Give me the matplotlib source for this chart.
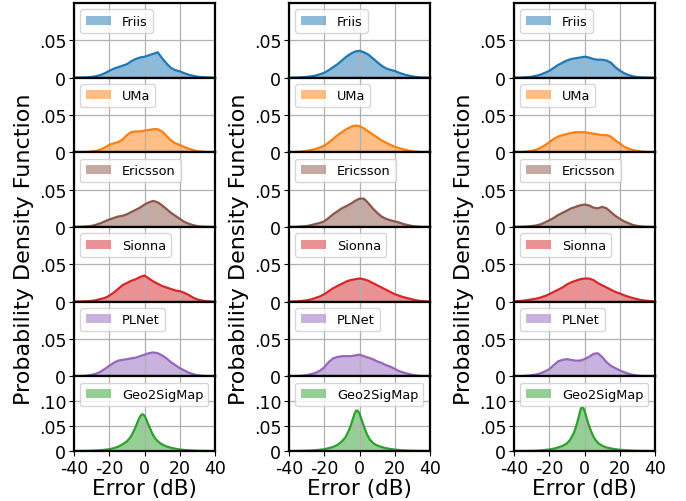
import matplotlib
matplotlib.use("Agg")
import matplotlib.pyplot as plt
from matplotlib.patches import Patch

plt.rcParams['axes.unicode_minus'] = False
plt.rcParams['font.family'] = ['DejaVu Sans']

# ---------------- data (density) ----------------
x_grid = [-40, -37.5, -35, -32.5, -30, -27.5, -25, -22.5, -20, -17.5, -15, -12.5,
          -10, -7.5, -5, -2.5, 0, 2.5, 5, 7.5, 10, 12.5, 15, 17.5, 20, 22.5,
          25, 27.5, 30, 32.5, 35, 37.5, 40]
geo_x = [-40, -35, -30, -25, -20, -17.5, -15, -12.5, -10, -8, -6, -5, -4, -3, -2, -1,
         0, 1, 2, 3, 4, 5, 6, 8, 10, 12.5, 15, 17.5, 20, 25, 30, 35, 40]

models = ["Friis", "UMa", "Ericsson", "Sionna", "PLNet", "Geo2SigMap"]
colors = ["tab:blue", "tab:orange", "tab:brown", "tab:red", "tab:purple", "tab:green"]

# column 1
c1_friis = [0, 0.0001, 0.0002, 0.0005, 0.001, 0.002, 0.0035, 0.006, 0.009,
            0.012, 0.014, 0.016, 0.018, 0.022, 0.025, 0.027, 0.028,
            0.030, 0.032, 0.034, 0.026, 0.019, 0.013, 0.010, 0.0085,
            0.006, 0.004, 0.0025, 0.0013, 0.0007, 0.0003, 0.0001, 0]
c1_uma = [0, 0.0001, 0.0003, 0.0007, 0.0012, 0.002, 0.0036, 0.0065, 0.010,
          0.012, 0.0135, 0.017, 0.023, 0.027, 0.028, 0.028, 0.029,
          0.030, 0.031, 0.031, 0.028, 0.022, 0.016, 0.012, 0.010,
          0.007, 0.005, 0.003, 0.0015, 0.0008, 0.0003, 0.0001, 0]
c1_ericsson = [0, 0.0001, 0.0003, 0.0008, 0.0015, 0.003, 0.005, 0.0075, 0.010,
               0.012, 0.014, 0.015, 0.017, 0.020, 0.023, 0.026, 0.030,
               0.033, 0.035, 0.033, 0.029, 0.024, 0.019, 0.015, 0.011,
               0.007, 0.0045, 0.0025, 0.0012, 0.0005, 0.0002, 0.0001, 0]
c1_sionna = [0, 0.0001, 0.0003, 0.0006, 0.001, 0.002, 0.0035, 0.005, 0.008,
             0.012, 0.017, 0.022, 0.025, 0.028, 0.030, 0.033, 0.035,
             0.031, 0.027, 0.024, 0.021, 0.019, 0.017, 0.015, 0.014,
             0.012, 0.009, 0.0055, 0.003, 0.0015, 0.0006, 0.0002, 0]
c1_plnet = [0, 0.0001, 0.0004, 0.001, 0.002, 0.0035, 0.006, 0.010, 0.014,
            0.018, 0.021, 0.022, 0.023, 0.024, 0.025, 0.027, 0.029,
            0.031, 0.032, 0.031, 0.028, 0.024, 0.019, 0.015, 0.011,
            0.008, 0.005, 0.003, 0.0015, 0.0007, 0.0003, 0.0001, 0]
c1_geo = [0, 0.0002, 0.0006, 0.0015, 0.0035, 0.0055, 0.0085, 0.013, 0.019,
          0.027, 0.040, 0.048, 0.057, 0.065, 0.071, 0.073, 0.070,
          0.063, 0.054, 0.046, 0.038, 0.031, 0.025, 0.018, 0.013,
          0.009, 0.0065, 0.0045, 0.003, 0.0013, 0.0005, 0.0002, 0]

# column 2
c2_friis = [0, 0.0001, 0.0002, 0.0005, 0.001, 0.0017, 0.0028, 0.0045, 0.0065,
            0.010, 0.014, 0.018, 0.023, 0.028, 0.032, 0.035, 0.036,
            0.034, 0.031, 0.026, 0.021, 0.016, 0.0125, 0.0105, 0.009,
            0.0065, 0.0045, 0.003, 0.0017, 0.0008, 0.0003, 0.0001, 0]
c2_uma = [0, 0.0002, 0.0005, 0.001, 0.002, 0.003, 0.0045, 0.0065, 0.009,
          0.013, 0.018, 0.023, 0.027, 0.031, 0.034, 0.036, 0.035,
          0.032, 0.028, 0.024, 0.020, 0.016, 0.013, 0.010, 0.0075,
          0.0055, 0.004, 0.0025, 0.0015, 0.0008, 0.0003, 0.0001, 0]
c2_ericsson = [0, 0.0001, 0.0003, 0.0007, 0.0013, 0.0025, 0.004, 0.0055, 0.0075,
               0.012, 0.017, 0.021, 0.025, 0.028, 0.031, 0.035, 0.038,
               0.038, 0.032, 0.025, 0.019, 0.014, 0.011, 0.009, 0.0075,
               0.006, 0.004, 0.0025, 0.0013, 0.0006, 0.0002, 0.0001, 0]
c2_sionna = [0, 0.0002, 0.0005, 0.001, 0.0018, 0.003, 0.005, 0.007, 0.010,
             0.014, 0.018, 0.021, 0.024, 0.027, 0.029, 0.030, 0.031,
             0.030, 0.028, 0.025, 0.022, 0.019, 0.016, 0.013, 0.010,
             0.008, 0.006, 0.0045, 0.003, 0.0017, 0.0008, 0.0003, 0.0001]
c2_plnet = [0, 0.0001, 0.0003, 0.0007, 0.0015, 0.003, 0.0045, 0.0075, 0.012,
            0.019, 0.024, 0.026, 0.027, 0.027, 0.027, 0.028, 0.029,
            0.027, 0.025, 0.023, 0.020, 0.018, 0.015, 0.013, 0.010,
            0.007, 0.005, 0.0035, 0.002, 0.001, 0.0004, 0.0001, 0]
c2_geo = [0, 0.0002, 0.0006, 0.0015, 0.0035, 0.0055, 0.008, 0.012, 0.019,
          0.027, 0.041, 0.050, 0.061, 0.072, 0.080, 0.080, 0.074,
          0.064, 0.054, 0.044, 0.035, 0.028, 0.022, 0.015, 0.011,
          0.008, 0.0055, 0.004, 0.0028, 0.0012, 0.0005, 0.0002, 0]

# column 3
c3_friis = [0, 0, 0.0002, 0.0006, 0.0013, 0.0025, 0.004, 0.0065, 0.009,
            0.013, 0.017, 0.020, 0.023, 0.025, 0.026, 0.027, 0.028,
            0.027, 0.025, 0.024, 0.024, 0.023, 0.020, 0.014, 0.0095,
            0.006, 0.0035, 0.0018, 0.0008, 0.0003, 0.0001, 0, 0]
c3_uma = [0, 0.0001, 0.0004, 0.001, 0.002, 0.0035, 0.006, 0.0095, 0.0135,
          0.018, 0.021, 0.023, 0.0245, 0.026, 0.027, 0.027, 0.027,
          0.026, 0.025, 0.024, 0.023, 0.023, 0.021, 0.016, 0.012,
          0.0075, 0.005, 0.003, 0.0018, 0.0009, 0.0004, 0.0001, 0]
c3_ericsson = [0, 0.0001, 0.0003, 0.0007, 0.0013, 0.002, 0.0035, 0.006, 0.009,
               0.012, 0.016, 0.019, 0.022, 0.025, 0.027, 0.029, 0.030,
               0.029, 0.026, 0.025, 0.027, 0.025, 0.020, 0.015, 0.011,
               0.0075, 0.005, 0.0027, 0.0014, 0.0006, 0.0002, 0.0001, 0]
c3_sionna = [0.0003, 0.0007, 0.0013, 0.002, 0.003, 0.004, 0.0055, 0.0075, 0.010,
             0.013, 0.016, 0.019, 0.023, 0.026, 0.028, 0.030, 0.031,
             0.031, 0.029, 0.025, 0.022, 0.019, 0.016, 0.013, 0.011,
             0.0085, 0.0065, 0.0048, 0.0033, 0.002, 0.0013, 0.0007, 0.0003]
c3_plnet = [0, 0.0001, 0.0003, 0.0008, 0.0015, 0.0025, 0.004, 0.0065, 0.0095,
            0.015, 0.020, 0.022, 0.023, 0.022, 0.021, 0.021, 0.023,
            0.026, 0.030, 0.031, 0.026, 0.019, 0.014, 0.011, 0.008,
            0.0055, 0.0035, 0.002, 0.001, 0.0005, 0.0002, 0.0001, 0]
c3_geo = [0, 0.0001, 0.0004, 0.001, 0.003, 0.0045, 0.007, 0.010, 0.015,
          0.023, 0.036, 0.046, 0.058, 0.072, 0.085, 0.087, 0.080,
          0.068, 0.056, 0.046, 0.037, 0.029, 0.023, 0.015, 0.0105,
          0.007, 0.005, 0.0035, 0.0025, 0.001, 0.0004, 0.0001, 0]

columns = [
    [c1_friis, c1_uma, c1_ericsson, c1_sionna, c1_plnet, c1_geo],
    [c2_friis, c2_uma, c2_ericsson, c2_sionna, c2_plnet, c2_geo],
    [c3_friis, c3_uma, c3_ericsson, c3_sionna, c3_plnet, c3_geo],
]

x_ticks = [-40, -20, 0, 20, 40]
x_tick_labels = ["-40", "-20", "0", "20", "40"]
y_ticks_top = [0, 0.05]
y_tick_labels_top = ["0", ".05"]
y_ticks_bottom = [0, 0.05, 0.10]
y_tick_labels_bottom = ["0", ".05", ".10"]

# ---------------- layout ----------------
W, H = 686, 502
fig = plt.figure(figsize=(W / 100, H / 100), dpi=100)

col_left_px = [74, 289, 514]
col_w_px = 141
top_px, bottom_px = 4, 452
row_h_px = (bottom_px - top_px) / 6

for ci, col in enumerate(columns):
    for ri, (name, color, dens) in enumerate(zip(models, colors, col)):
        xs = geo_x if ri == 5 else x_grid
        y0 = top_px + row_h_px * (ri + 1)
        ax = fig.add_axes([col_left_px[ci] / W, 1 - y0 / H, col_w_px / W, row_h_px / H])
        ax.fill_between(xs, dens, 0, color=color, alpha=0.5, lw=0)
        ax.plot(xs, dens, color=color, lw=1.6)
        ax.set_xlim(-40, 40)
        ax.set_xticks(x_ticks)
        ax.grid(True, color="#b0b0b0", lw=0.9)
        if ri == 5:
            ax.set_ylim(0, 0.148)
            ax.set_yticks(y_ticks_bottom)
            ax.set_yticklabels(y_tick_labels_bottom)
            ax.set_xticklabels(x_tick_labels)
            ax.set_xlabel("Error (dB)", fontsize=15.5, labelpad=1)
        else:
            ax.set_ylim(0, 0.1)
            ax.set_yticks(y_ticks_top)
            ax.set_yticklabels(y_tick_labels_top)
            ax.tick_params(axis="x", labelbottom=False, length=0)
        ax.tick_params(labelsize=12.5, pad=2)
        for sp in ax.spines.values():
            sp.set_linewidth(1.6)
        ax.legend(handles=[Patch(facecolor=color, alpha=0.5, edgecolor="none", label=name)],
                  loc="upper left", fontsize=9.3)
    fig.text((col_left_px[ci] - 50) / W, 1 - 249.5 / H, "Probability Density Function",
             rotation=90, ha="center", va="center", fontsize=16)

fig.savefig("out.png", dpi=100)
